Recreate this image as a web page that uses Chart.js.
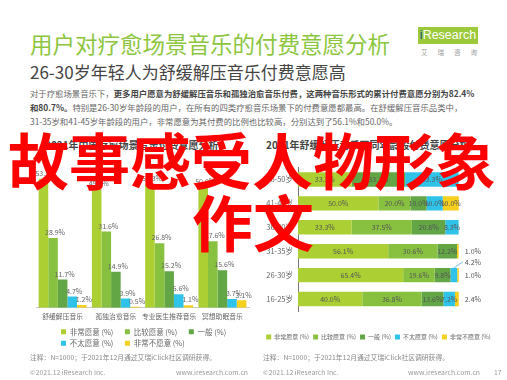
<!DOCTYPE html>
<html>
<head>
<meta charset="utf-8">
<script src="https://cdn.jsdelivr.net/npm/chart.js@4"></script>
<style>
  body { margin: 0; width: 507px; height: 380px; background: #fff; position: relative; overflow: hidden;
         font-family: "Noto Sans CJK SC", sans-serif; }
  .abs { position: absolute; white-space: nowrap; }
  .title { left: 30px; top: 28px; font-size: 22.5px; line-height: 30px; color: #8cc63e; }
  .sub { left: 30px; top: 61px; font-size: 17px; line-height: 22px; color: #444; }
  .para { left: 30px; font-size: 8.4px; line-height: 12px; color: #666; }
  .para b { color: #444; font-weight: bold; }
  .logo { left: 418px; top: 27px; width: 60px; height: 17px; background: #9bc93a; color: #fff;
          font-family: Arial, "Liberation Sans", sans-serif; font-size: 12.5px; line-height: 17px; text-align: center; }
  .logo span { color: #1c4f8a; }
  .logo-cn { left: 421px; top: 47px; font-size: 6.5px; color: #999; letter-spacing: 10px; }
  .ctitle { top: 138px; font-size: 10px; line-height: 14px; font-weight: bold; color: #444; }
  .note { top: 352px; font-size: 6.8px; line-height: 10px; color: #888; }
  .foot { top: 367px; font-size: 6.8px; line-height: 10px; color: #999; }
  .wrap { position: absolute; }
  .over { font-size: 61px; line-height: 61px; font-weight: bold; color: #ff0000; z-index: 5; }
</style>
</head>
<body>

<div class="abs title">用户对疗愈场景音乐的付费意愿分析</div>
<div class="abs sub">26-30岁年轻人为舒缓解压音乐付费意愿高</div>
<div class="abs para" style="top:87px">对于疗愈场景音乐下，<b>更多用户愿意为舒缓解压音乐和孤独治愈音乐付费，这两种音乐形式的累计付费意愿分别为82.4%</b></div>
<div class="abs para" style="top:101px"><b>和80.7%。</b>特别是26-30岁年龄段的用户，在所有的四类疗愈音乐场景下的付费意愿都最高。在舒缓解压音乐品类中，</div>
<div class="abs para" style="top:115px">31-35岁和41-45岁年龄段的用户，非常愿意为其付费的比例也比较高，分别达到了56.1%和50.0%。</div>

<div class="abs logo"><span>i</span>Research</div>
<div class="abs logo-cn">艾瑞咨询</div>

<div class="abs ctitle" style="left:45px">2021年中国疗愈场景音乐付费意愿分析</div>
<div class="abs ctitle" style="left:266px">2021年舒缓解压音乐不同年龄段付费意愿分析</div>

<div class="wrap" style="left:22px;top:150px;width:232px;height:207px"><canvas id="typeChart"></canvas></div>
<div class="wrap" style="left:252px;top:158px;width:250px;height:192px"><canvas id="ageChart"></canvas></div>

<div class="abs note" style="left:30px">注释：N=1000；于2021年12月通过艾瑞iClick社区调研获得。</div>
<div class="abs note" style="left:263px">注释：N=1000；于2021年12月通过艾瑞iClick社区调研获得。</div>
<div class="abs foot" style="left:30px">©2021.12 iResearch Inc.</div>
<div class="abs foot" style="right:259px">www.iresearch.com.cn</div>
<div class="abs foot" style="left:263px">©2021.12 iResearch Inc.</div>
<div class="abs foot" style="right:27px">www.iresearch.com.cn</div>
<div class="abs foot" style="left:494px">17</div>

<div class="abs over" style="left:8px;top:128px">故事感受人物形象</div>
<div class="abs over" style="left:192px;top:190px">作文</div>

<script>
// 各类疗愈音乐的付费意愿
const typeLabels = ["舒缓解压音乐", "孤独治愈音乐", "专业医生推荐音乐", "冥想助眠音乐"];
const typeVeryWilling = [53.5, 49.1, 51.3, 50.0];
const typeWilling = [28.9, 31.6, 26.8, 27.6];
const typeNeutral = [11.7, 14.9, 15.2, 15.6];
const typeUnwilling = [4.7, 3.9, 5.6, 3.7];
const typeVeryUnwilling = [1.2, 0.5, 1.1, 3.1];

// 舒缓解压音乐，不同年龄段
const ageLabels = ["46-50岁", "41-45岁", "36-40岁", "31-35岁", "26-30岁", "16-25岁"];
const ageVeryWilling = [33.3, 50.0, 33.3, 56.1, 65.4, 40.0];
const ageWilling = [0, 20.0, 37.5, 30.6, 19.6, 36.8];
const ageNeutral = [33.3, 10.0, 20.8, 12.2, 9.8, 13.6];
const ageUnwilling = [33.3, 10.0, 8.3, 0, 4.2, 7.2];
const ageVeryUnwilling = [0, 10.0, 0, 1.0, 1.0, 2.4];

const levelNames = ["非常愿意 (%)", "比较愿意 (%)", "一般 (%)", "不太愿意 (%)", "非常不愿意 (%)"];
const levelColors = ["#acd033", "#88c140", "#62a646", "#30c3ea", "#f6d01c"];

const cjk = '"Noto Sans CJK SC", sans-serif';

function makeSets(arrays) {
    return arrays.map((arr, i) => ({
        label: levelNames[i],
        data: arr,
        backgroundColor: levelColors[i],
        borderWidth: 0
    }));
}

// labels above the grouped bars
const topLabels = {
    id: "topLabels",
    afterLayout(chart) {
        // legend rows start a bit right of the plot edge
        chart.legend.left += 21;
        chart.legend.right += 21;
    },
    afterDatasetsDraw(chart) {
        const ctx = chart.ctx;
        ctx.save();
        ctx.font = "7px " + cjk;
        ctx.fillStyle = "#666";
        ctx.textAlign = "center";
        ctx.textBaseline = "bottom";
        chart.data.datasets.forEach((ds, d) => {
            chart.getDatasetMeta(d).data.forEach((bar, i) => {
                ctx.fillText(ds.data[i].toFixed(1) + "%", bar.x + 2, bar.y - 2);
            });
        });
        ctx.restore();
    }
};

// labels in / beside the stacked segments
const stackLabels = {
    id: "stackLabels",
    afterDatasetsDraw(chart) {
        const ctx = chart.ctx;
        const end = chart.scales.x.getPixelForValue(100);
        ctx.save();
        ctx.font = "7px " + cjk;
        ctx.fillStyle = "#555";
        ctx.textBaseline = "middle";
        chart.data.labels.forEach((lab, i) => {
            let last = -1;
            chart.data.datasets.forEach((ds, d) => { if (ds.data[i] > 0) last = d; });
            chart.data.datasets.forEach((ds, d) => {
                const v = ds.data[i];
                if (!v) return;
                const bar = chart.getDatasetMeta(d).data[i];
                const txt = v.toFixed(1) + "%";
                if (v >= 5) {
                    ctx.textAlign = "center";
                    ctx.fillText(txt, (bar.x + bar.base) / 2, bar.y);
                } else if (d === last) {
                    ctx.textAlign = "left";
                    ctx.fillText(txt, end + 6, bar.y);
                } else {
                    // small inner segment: label above right with a leader
                    const top = bar.y - bar.height / 2;
                    ctx.strokeStyle = "#30a6d6";
                    ctx.lineWidth = 0.7;
                    ctx.beginPath();
                    ctx.moveTo((bar.x + bar.base) / 2, top);
                    ctx.lineTo(end + 4, top - 6);
                    ctx.stroke();
                    ctx.textAlign = "left";
                    ctx.fillText(txt, end + 6, top - 6);
                }
            });
        });
        ctx.restore();
    }
};

new Chart(document.getElementById("typeChart"), {
    type: "bar",
    data: {
        labels: typeLabels,
        datasets: makeSets([typeVeryWilling, typeWilling, typeNeutral, typeUnwilling, typeVeryUnwilling])
    },
    options: {
        responsive: true,
        maintainAspectRatio: false,
        animation: false,
        layout: { padding: { left: 14, right: 5, top: 13, bottom: 0 } },
        datasets: { bar: { categoryPercentage: 0.9, barPercentage: 1 } },
        plugins: {
            tooltip: { enabled: false },
            legend: {
                position: "bottom",
                align: "start",
                labels: {
                    boxWidth: 5, boxHeight: 5, padding: 4, color: "#666", font: { family: cjk, size: 7.5 },
                    generateLabels(chart) {
                        const items = Chart.defaults.plugins.legend.labels.generateLabels(chart);
                        items.forEach(it => { it.text = it.text + "\u3000"; });
                        return items;
                    }
                }
            }
        },
        scales: {
            x: {
                grid: { display: false, drawTicks: false },
                border: { color: "#c8c8c8" },
                ticks: { color: "#666", padding: 4, autoSkip: false, maxRotation: 0, minRotation: 0,
                         font: { family: cjk, size: 6.8 } }
            },
            y: { display: false, min: 0, max: 60 }
        }
    },
    plugins: [topLabels]
});

new Chart(document.getElementById("ageChart"), {
    type: "bar",
    data: {
        labels: ageLabels,
        datasets: makeSets([ageVeryWilling, ageWilling, ageNeutral, ageUnwilling, ageVeryUnwilling])
    },
    options: {
        indexAxis: "y",
        responsive: true,
        maintainAspectRatio: false,
        animation: false,
        layout: { padding: { left: 6, right: 3, top: 4.5, bottom: 0 } },
        datasets: { bar: { categoryPercentage: 1, barPercentage: 0.6 } },
        plugins: {
            tooltip: { enabled: false },
            legend: {
                position: "bottom",
                labels: { boxWidth: 5, boxHeight: 5, padding: 4, color: "#666", font: { family: cjk, size: 6 } }
            }
        },
        scales: {
            x: {
                stacked: true, min: 0, max: 125,
                afterFit(scale) { scale.height = 19; },
                grid: { display: false, drawTicks: false },
                border: { display: false },
                ticks: { display: false }
            },
            y: {
                stacked: true,
                afterFit(scale) { scale.width = 40; },
                grid: { display: false, drawTicks: false },
                border: { color: "#777" },
                ticks: { color: "#666", padding: 5, font: { family: cjk, size: 7.5 } }
            }
        }
    },
    plugins: [stackLabels]
});
</script>
</body>
</html>
